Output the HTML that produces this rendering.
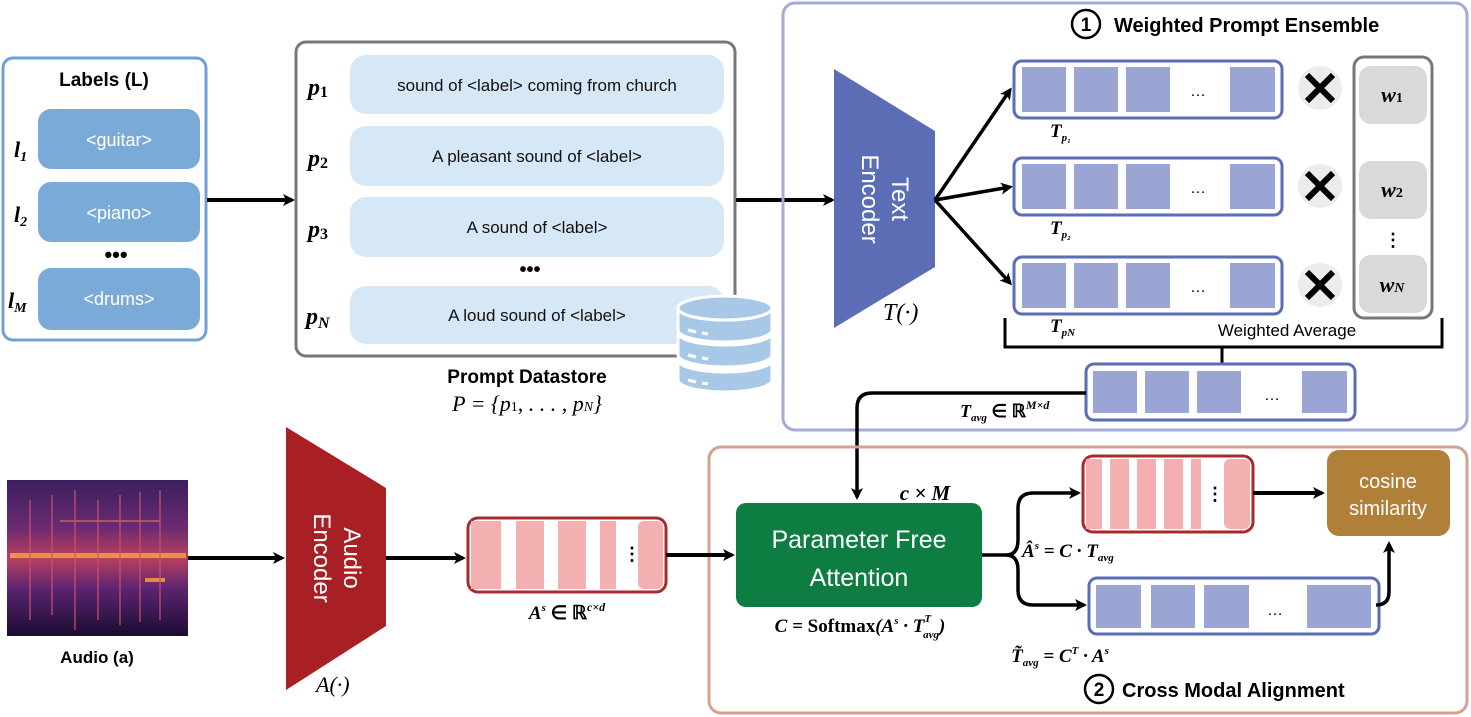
<!DOCTYPE html>
<html><head><meta charset="utf-8"><style>
body{margin:0;background:#fff;}
svg{display:block;font-family:"Liberation Sans",sans-serif;}
.m{font-family:"Liberation Serif",serif;font-style:italic;}
</style></head><body>
<svg width="1471" height="717" viewBox="0 0 1471 717" xmlns="http://www.w3.org/2000/svg">
<defs>
<marker id="ar" markerWidth="12" markerHeight="12" refX="9" refY="6" orient="auto" markerUnits="userSpaceOnUse"><path d="M0,0 L12,6 L0,12 L3,6 Z" fill="#000"/></marker>
<linearGradient id="spec" x1="0" y1="0" x2="0" y2="1"><stop offset="0" stop-color="#3a1f5e"/><stop offset="0.3" stop-color="#6a2a70"/><stop offset="0.5" stop-color="#b84060"/><stop offset="0.7" stop-color="#5a2470"/><stop offset="1" stop-color="#1a0c30"/></linearGradient>
</defs>
<!-- Labels -->
<rect x="3" y="58" width="203" height="282" rx="10" fill="#fff" stroke="#6fa0d8" stroke-width="3"/>
<text x="104" y="86" font-size="19" font-weight="bold" text-anchor="middle">Labels  (L)</text>
<g fill="#7aaad8"><rect x="38" y="109" width="162" height="60" rx="13"/><rect x="38" y="182" width="162" height="60" rx="13"/><rect x="38" y="268" width="162" height="62" rx="13"/></g>
<g fill="#fff" font-size="18" text-anchor="middle"><text x="119" y="146">&lt;guitar&gt;</text><text x="119" y="219">&lt;piano&gt;</text><text x="119" y="305">&lt;drums&gt;</text></g>
<g class="m" font-size="22" font-weight="bold"><text x="14" y="157">l<tspan font-size="14" dy="4">1</tspan></text><text x="14" y="222">l<tspan font-size="14" dy="4">2</tspan></text><text x="8" y="308">l<tspan font-size="14" dy="4">M</tspan></text></g>
<text x="116" y="262" font-size="22" font-weight="bold" text-anchor="middle">•••</text>
<line x1="207" y1="200" x2="292" y2="200" stroke="#000" stroke-width="4" marker-end="url(#ar)"/>
<!-- Prompt datastore -->
<rect x="296" y="42" width="439" height="314" rx="10" fill="#fff" stroke="#777" stroke-width="3"/>
<g fill="#d6e7f6"><rect x="350" y="55" width="374" height="59" rx="16"/><rect x="350" y="126" width="374" height="60" rx="16"/><rect x="350" y="197" width="374" height="60" rx="16"/><rect x="350" y="286" width="374" height="58" rx="16"/></g>
<g font-size="17" text-anchor="middle" fill="#111"><text x="537" y="91">sound of &lt;label&gt; coming from church</text><text x="537" y="162">A pleasant sound of &lt;label&gt;</text><text x="537" y="233">A sound of &lt;label&gt;</text><text x="537" y="321">A loud sound of &lt;label&gt;</text></g>
<g class="m" font-size="24" font-weight="bold"><text x="308" y="95">p<tspan font-size="16" font-style="normal" dy="2">1</tspan></text><text x="308" y="166">p<tspan font-size="16" font-style="normal" dy="2">2</tspan></text><text x="308" y="237">p<tspan font-size="16" font-style="normal" dy="2">3</tspan></text><text x="306" y="324">p<tspan font-size="16" dy="4">N</tspan></text></g>
<text x="530" y="276" font-size="20" font-weight="bold" text-anchor="middle">•••</text>
<!-- database -->
<g fill="#a8c8e8" stroke="#fff" stroke-width="3">
<path d="M678,380 v-20 a47,12 0 0 0 94,0 v20 a47,12 0 0 1 -94,0Z"/>
<path d="M678,355 v-22 a47,12 0 0 0 94,0 v22 a47,12 0 0 1 -94,0Z"/>
<path d="M678,330 v-22 a47,12 0 0 0 94,0 v22 a47,12 0 0 1 -94,0Z"/>
<ellipse cx="725" cy="308" rx="47" ry="12"/>
</g>
<g stroke="#fff" stroke-width="3"><line x1="688" y1="330" x2="696" y2="332"/><line x1="702" y1="333" x2="708" y2="334"/><line x1="688" y1="355" x2="696" y2="357"/><line x1="702" y1="358" x2="708" y2="359"/><line x1="688" y1="380" x2="696" y2="382"/><line x1="702" y1="383" x2="708" y2="384"/></g>
<text x="527" y="383" font-size="19" font-weight="bold" text-anchor="middle">Prompt Datastore</text>
<text x="527" y="411" class="m" font-size="22" text-anchor="middle">P = {p<tspan font-size="14" font-style="normal">1</tspan>, . . . , p<tspan font-size="14">N</tspan>}</text>
<line x1="736" y1="200" x2="832" y2="200" stroke="#000" stroke-width="4" marker-end="url(#ar)"/>
<!-- top right panel -->
<rect x="783" y="3" width="684" height="427" rx="12" fill="none" stroke="#a5aad6" stroke-width="3"/>
<circle cx="1086" cy="24" r="14" fill="none" stroke="#000" stroke-width="2.5"/>
<text x="1086" y="31" font-size="19" font-weight="bold" text-anchor="middle">1</text>
<text x="1114" y="32" font-size="20" font-weight="bold">Weighted Prompt Ensemble</text>
<path d="M834,69 L935,131 L935,267 L834,328 Z" fill="#5a6db5"/>
<text transform="translate(884,199) rotate(90)" font-size="24" fill="#fff" text-anchor="middle"><tspan x="0" y="-8">Text</tspan><tspan x="0" y="22">Encoder</tspan></text>
<text x="883" y="320" class="m" font-size="24">T(·)</text>
<g stroke="#000" stroke-width="3.5" marker-end="url(#ar)"><line x1="935" y1="200" x2="1010" y2="90"/><line x1="935" y1="200" x2="1010" y2="187"/><line x1="935" y1="200" x2="1010" y2="283"/></g>
<g id="tb">
<rect x="1014" y="61" width="268" height="57" rx="8" fill="#fff" stroke="#5a6db5" stroke-width="3"/>
<g fill="#9aa5d4"><rect x="1022" y="67" width="44" height="45"/><rect x="1074" y="67" width="44" height="45"/><rect x="1126" y="67" width="44" height="45"/><rect x="1230" y="67" width="45" height="45"/></g>
<text x="1198" y="96" font-size="16" text-anchor="middle">…</text>
</g>
<use href="#tb" y="97"/><use href="#tb" y="196"/>
<g class="m" font-size="19" font-weight="bold"><text x="1050" y="137">T<tspan font-size="11" dy="4">p₁</tspan></text><text x="1050" y="234">T<tspan font-size="11" dy="4">p₂</tspan></text><text x="1050" y="332">T<tspan font-size="11" dy="4">pN</tspan></text></g>
<g><circle cx="1320" cy="88" r="22" fill="#ececec"/><circle cx="1320" cy="186" r="22" fill="#ececec"/><circle cx="1320" cy="285" r="22" fill="#ececec"/></g>
<g stroke="#000" stroke-width="6"><path d="M1307,75 L1333,101 M1333,75 L1307,101"/><path d="M1307,173 L1333,199 M1333,173 L1307,199"/><path d="M1307,272 L1333,298 M1333,272 L1307,298"/></g>
<rect x="1354" y="57" width="78" height="261" rx="10" fill="#fff" stroke="#777" stroke-width="3"/>
<g fill="#d9d9d9"><rect x="1359" y="66" width="68" height="58" rx="12"/><rect x="1359" y="161" width="68" height="58" rx="12"/><rect x="1359" y="255" width="68" height="58" rx="12"/></g>
<g class="m" font-size="22" font-weight="bold" text-anchor="middle"><text x="1392" y="102">w<tspan font-size="14" font-style="normal">1</tspan></text><text x="1392" y="197">w<tspan font-size="14" font-style="normal">2</tspan></text><text x="1392" y="292">w<tspan font-size="14">N</tspan></text></g>
<text x="1393" y="246" font-size="18" font-weight="bold" text-anchor="middle">⋮</text>
<path d="M1005,318 V347 H1442 V318 M1222,347 V364" fill="none" stroke="#000" stroke-width="3"/>
<text x="1287" y="336" font-size="17" text-anchor="middle">Weighted Average</text>
<rect x="1086" y="364" width="269" height="56" rx="8" fill="#fff" stroke="#5a6db5" stroke-width="3"/>
<g fill="#9aa5d4"><rect x="1093" y="371" width="44" height="42"/><rect x="1145" y="371" width="44" height="42"/><rect x="1197" y="371" width="44" height="42"/><rect x="1302" y="371" width="45" height="42"/></g>
<text x="1272" y="400" font-size="16" text-anchor="middle">…</text>
<text x="960" y="417" class="m" font-size="18" font-weight="bold">T<tspan font-size="11" dy="4">avg</tspan><tspan dy="-4" font-style="normal"> ∈ ℝ</tspan><tspan font-size="12" dy="-8">M×d</tspan></text>
<path d="M1086,393 H872 Q857,393 857,408 V497" fill="none" stroke="#000" stroke-width="3.5" marker-end="url(#ar)"/>
<!-- bottom panel -->
<rect x="709" y="447" width="758" height="266" rx="12" fill="none" stroke="#d4a090" stroke-width="3"/>
<rect x="736" y="503" width="246" height="104" rx="10" fill="#0e7d42"/>
<text x="859" y="548" font-size="25" fill="#fff" text-anchor="middle">Parameter Free</text>
<text x="859" y="586" font-size="25" fill="#fff" text-anchor="middle">Attention</text>
<text x="925" y="500" class="m" font-size="21" font-weight="bold" text-anchor="middle">c × M</text>
<text x="860" y="632" class="m" font-size="19" font-weight="bold" text-anchor="middle">C = <tspan font-style="normal">Softmax</tspan>(A<tspan font-size="11" dy="-8">s</tspan><tspan dy="8"> · T</tspan><tspan font-size="11" dy="-10">T</tspan><tspan font-size="11" dx="-7" dy="16">avg</tspan><tspan dy="-6">)</tspan></text>
<path d="M982,555 H1006 Q1018,555 1018,540 V508 Q1018,493 1033,493 H1078" fill="none" stroke="#000" stroke-width="3.5" marker-end="url(#ar)"/>
<path d="M1006,555 Q1018,555 1018,570 V590 Q1018,605 1033,605 H1084" fill="none" stroke="#000" stroke-width="3.5" marker-end="url(#ar)"/>
<rect x="1083" y="456" width="170" height="76" rx="10" fill="#fff" stroke="#a82a2a" stroke-width="3"/>
<g fill="#f4b0b0"><rect x="1086" y="459" width="16" height="70"/><rect x="1110" y="459" width="19" height="70"/><rect x="1137" y="459" width="19" height="70"/><rect x="1164" y="459" width="19" height="70"/><rect x="1191" y="459" width="10" height="70"/><rect x="1224" y="459" width="26" height="70" rx="6"/></g>
<text x="1206" y="500" font-size="18" font-weight="bold">⋮</text>
<text x="1022" y="557" class="m" font-size="19" font-weight="bold">Â<tspan font-size="11" dy="-8">s</tspan><tspan dy="8"> = C · T</tspan><tspan font-size="11" dy="4">avg</tspan></text>
<line x1="1253" y1="493" x2="1322" y2="493" stroke="#000" stroke-width="4" marker-end="url(#ar)"/>
<rect x="1327" y="450" width="123" height="86" rx="12" fill="#b07f38"/>
<text x="1388" y="488" font-size="20" fill="#fff" text-anchor="middle">cosine</text>
<text x="1388" y="515" font-size="20" fill="#fff" text-anchor="middle">similarity</text>
<rect x="1089" y="578" width="290" height="56" rx="8" fill="#fff" stroke="#5a6db5" stroke-width="3"/>
<g fill="#9aa5d4"><rect x="1096" y="585" width="45" height="43"/><rect x="1151" y="585" width="44" height="43"/><rect x="1204" y="585" width="45" height="43"/><rect x="1307" y="585" width="64" height="43"/></g>
<text x="1275" y="615" font-size="16" text-anchor="middle">…</text>
<path d="M1379,605 H1376 Q1389,605 1389,592 V544" fill="none" stroke="#000" stroke-width="3.5" marker-end="url(#ar)"/>
<text x="1060" y="662" class="m" font-size="19" font-weight="bold" text-anchor="middle">T̃<tspan font-size="11" dy="4">avg</tspan><tspan dy="-4"> = C</tspan><tspan font-size="11" dy="-8">T</tspan><tspan dy="8"> · A</tspan><tspan font-size="11" dy="-8">s</tspan></text>
<circle cx="1099" cy="689" r="14" fill="none" stroke="#000" stroke-width="2.5"/>
<text x="1099" y="696" font-size="19" font-weight="bold" text-anchor="middle">2</text>
<text x="1122" y="697" font-size="20" font-weight="bold">Cross Modal Alignment</text>
<!-- audio -->
<rect x="7" y="480" width="181" height="156" fill="url(#spec)"/>
<g fill="#f7a040" opacity="0.85"><rect x="10" y="553" width="176" height="5"/><rect x="145" y="578" width="20" height="4"/><rect x="60" y="520" width="100" height="2" opacity="0.5"/></g>
<g stroke="#d05070" stroke-width="2" opacity="0.6"><line x1="30" y1="500" x2="30" y2="620"/><line x1="75" y1="490" x2="75" y2="630"/><line x1="120" y1="495" x2="120" y2="625"/><line x1="160" y1="490" x2="160" y2="620"/><line x1="52" y1="495" x2="52" y2="615"/><line x1="98" y1="500" x2="98" y2="620"/><line x1="140" y1="492" x2="140" y2="622"/></g>
<text x="97" y="663" font-size="17" font-weight="bold" text-anchor="middle">Audio (a)</text>
<line x1="188" y1="558" x2="282" y2="558" stroke="#000" stroke-width="4" marker-end="url(#ar)"/>
<path d="M286,427 L386,488 L386,626 L286,690 Z" fill="#a81f24"/>
<text transform="translate(336,558) rotate(90)" font-size="24" fill="#fff" text-anchor="middle"><tspan x="0" y="-8">Audio</tspan><tspan x="0" y="22">Encoder</tspan></text>
<text x="316" y="692" class="m" font-size="22">A(·)</text>
<line x1="386" y1="558" x2="463" y2="558" stroke="#000" stroke-width="4" marker-end="url(#ar)"/>
<rect x="468" y="518" width="198" height="74" rx="10" fill="#fff" stroke="#a82a2a" stroke-width="3"/>
<g fill="#f4b0b0"><rect x="471" y="521" width="30" height="68"/><rect x="516" y="521" width="28" height="68"/><rect x="558" y="521" width="28" height="68"/><rect x="600" y="521" width="16" height="68"/><rect x="638" y="521" width="25" height="68" rx="6"/></g>
<text x="623" y="560" font-size="18" font-weight="bold">⋮</text>
<text x="567" y="619" class="m" font-size="19" font-weight="bold" text-anchor="middle">A<tspan font-size="11" dy="-8">s</tspan><tspan dy="8" font-style="normal"> ∈ ℝ</tspan><tspan font-size="12" dy="-8">c×d</tspan></text>
<line x1="666" y1="555" x2="732" y2="555" stroke="#000" stroke-width="4" marker-end="url(#ar)"/>
</svg>
</body></html>
